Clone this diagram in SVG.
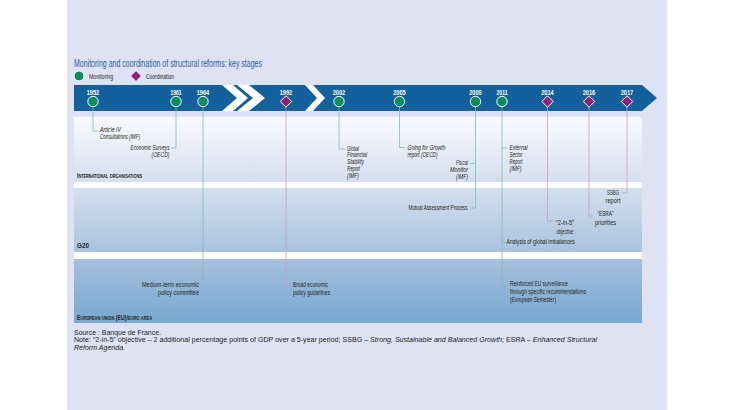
<svg xmlns="http://www.w3.org/2000/svg" width="730" height="410" viewBox="0 0 730 410">
<defs>
<style>
text { font-family: "Liberation Sans", Arial, sans-serif; }
.lbl { font-size: 7px; fill: #231f20; }
.it { font-style: italic; }
.yr { font-size: 7.5px; font-weight: bold; fill: #ffffff; text-anchor: middle; }
.band { font-size: 6.5px; font-weight: bold; fill: #231f20; font-variant: small-caps; }
.cg { stroke: #7dbdb1; stroke-width: 0.8; fill: none; }
.cp { stroke: #c99dca; stroke-width: 0.8; fill: none; }
.mon { fill: #0d8a62; stroke: #ffffff; stroke-width: 1; }
.coo { fill: #8e1f7f; stroke: #ffffff; stroke-width: 1; }
.chev { fill: #ffffff; }
.note { font-size: 6.5px; fill: #231f20; }
</style>
<linearGradient id="gIO" x1="0" y1="0" x2="0" y2="1">
<stop offset="0" stop-color="#f9fafe"/>
<stop offset="1" stop-color="#d5dfed"/>
</linearGradient>
<linearGradient id="gG20" x1="0" y1="0" x2="0" y2="1">
<stop offset="0" stop-color="#d3dfed"/>
<stop offset="1" stop-color="#a9c3df"/>
</linearGradient>
<linearGradient id="gEU" x1="0" y1="0" x2="0" y2="1">
<stop offset="0" stop-color="#a5c0dd"/>
<stop offset="1" stop-color="#77a7cf"/>
</linearGradient>
</defs>

<rect x="0" y="0" width="730" height="410" fill="#ffffff"/>
<rect x="67" y="0" width="600" height="410" fill="#dee2f2"/>

<text x="74" y="66.5" font-size="10.5" fill="#2e5aa6" textLength="188" lengthAdjust="spacingAndGlyphs">Monitoring and coordination of structural reforms: key stages</text>

<g id="legend">
<circle class="mon" cx="79" cy="76" r="5"/>
<text class="lbl" x="89" y="78.5" textLength="24" lengthAdjust="spacingAndGlyphs">Monitoring</text>
<polygon class="coo" points="136,70.5 141.5,76 136,81.5 130.5,76"/>
<text class="lbl" x="146" y="78.5" textLength="28" lengthAdjust="spacingAndGlyphs">Coordination</text>
</g>

<g id="bands">
<rect x="74" y="117" width="568" height="65" fill="url(#gIO)"/>
<rect x="74" y="182" width="568" height="6" fill="#ffffff"/>
<rect x="74" y="188" width="568" height="64" fill="url(#gG20)"/>
<rect x="74" y="252" width="568" height="7" fill="#ffffff"/>
<rect x="74" y="259" width="568" height="64" fill="url(#gEU)"/>
<text class="band" x="77" y="177.5" textLength="65" lengthAdjust="spacingAndGlyphs">International organisations</text>
<text class="band" x="77" y="247.5" textLength="12" lengthAdjust="spacingAndGlyphs">G20</text>
<text class="band" x="77" y="319.5" textLength="75" lengthAdjust="spacingAndGlyphs">European union (EU)/euro area</text>
</g>

<g id="timeline">
<polygon points="74,85 642,85 657,98 642,111 74,111" fill="#14609c"/>
<polygon class="chev" points="222,85 233,85 248,98 233,111 222,111 237,98"/>
<polygon class="chev" points="237,85 249,85 265,98 249,111 237,111 253,98"/>
<polygon class="chev" points="305,85 313,85 325,98 313,111 305,111 317,98"/>
</g>

<g id="connectors">
<path class="cg" d="M93,106 V131 H98"/>
<path class="cg" d="M176,106 V148 H171"/>
<path class="cg" d="M203,106 V285 H200"/>
<path class="cp" d="M286,106 V285 H291"/>
<path class="cg" d="M339,106 V149 H345"/>
<path class="cg" d="M399.5,106 V147.5 H405"/>
<path class="cg" d="M475.5,106 V208 H470 M475.5,163.5 H470"/>
<path class="cg" d="M502,106 V286 H507 M502,148 H507 M502,242 H505"/>
<path class="cp" d="M547.5,106 V221 H553"/>
<path class="cp" d="M589,106 V216 H593"/>
<path class="cp" d="M627,106 V193 H622"/>
</g>

<g id="m1952"><circle class="mon" cx="93" cy="101.5" r="5.2"/><text class="yr" x="93" y="95.3" textLength="12.5" lengthAdjust="spacingAndGlyphs">1952</text></g>
<g id="m1961"><circle class="mon" cx="176" cy="101.5" r="5.2"/><text class="yr" x="176" y="95.3" textLength="11" lengthAdjust="spacingAndGlyphs">1961</text></g>
<g id="m1964"><circle class="mon" cx="203" cy="101.5" r="5.2"/><text class="yr" x="203" y="95.3" textLength="12.5" lengthAdjust="spacingAndGlyphs">1964</text></g>
<g id="m1992"><polygon class="coo" points="286,95.8 291.7,101.5 286,107.2 280.3,101.5"/><text class="yr" x="286" y="95.3" textLength="12.5" lengthAdjust="spacingAndGlyphs">1992</text></g>
<g id="m2002"><circle class="mon" cx="339" cy="101.5" r="5.2"/><text class="yr" x="339" y="95.3" textLength="12.5" lengthAdjust="spacingAndGlyphs">2002</text></g>
<g id="m2005"><circle class="mon" cx="399.5" cy="101.5" r="5.2"/><text class="yr" x="399.5" y="95.3" textLength="12.5" lengthAdjust="spacingAndGlyphs">2005</text></g>
<g id="m2009"><circle class="mon" cx="475.5" cy="101.5" r="5.2"/><text class="yr" x="475.5" y="95.3" textLength="12.5" lengthAdjust="spacingAndGlyphs">2009</text></g>
<g id="m2011"><circle class="mon" cx="502" cy="101.5" r="5.2"/><text class="yr" x="502" y="95.3" textLength="11" lengthAdjust="spacingAndGlyphs">2011</text></g>
<g id="m2014"><polygon class="coo" points="547.5,95.8 553.2,101.5 547.5,107.2 541.8,101.5"/><text class="yr" x="547.5" y="95.3" textLength="12.5" lengthAdjust="spacingAndGlyphs">2014</text></g>
<g id="m2016"><polygon class="coo" points="589,95.8 594.7,101.5 589,107.2 583.3,101.5"/><text class="yr" x="589" y="95.3" textLength="12.5" lengthAdjust="spacingAndGlyphs">2016</text></g>
<g id="m2017"><polygon class="coo" points="627,95.8 632.7,101.5 627,107.2 621.3,101.5"/><text class="yr" x="627" y="95.3" textLength="12.5" lengthAdjust="spacingAndGlyphs">2017</text></g>

<g id="l-article-iv" class="lbl it">
<text x="100" y="131.5" textLength="21" lengthAdjust="spacingAndGlyphs">Article IV</text>
<text x="100" y="138.5" textLength="40" lengthAdjust="spacingAndGlyphs">Consultations (IMF)</text>
</g>
<g id="l-economic-surveys" class="lbl it" text-anchor="end">
<text x="169.5" y="149.5" textLength="39" lengthAdjust="spacingAndGlyphs">Economic Surveys</text>
<text x="169.5" y="156.5" textLength="18" lengthAdjust="spacingAndGlyphs">(OECD)</text>
</g>
<g id="l-gfsr" class="lbl it">
<text x="347" y="150.5" textLength="12" lengthAdjust="spacingAndGlyphs">Global</text>
<text x="347" y="157.3" textLength="20" lengthAdjust="spacingAndGlyphs">Financial</text>
<text x="347" y="164.1" textLength="17" lengthAdjust="spacingAndGlyphs">Stability</text>
<text x="347" y="170.9" textLength="13" lengthAdjust="spacingAndGlyphs">Report</text>
<text x="347" y="177.7" textLength="12" lengthAdjust="spacingAndGlyphs">(IMF)</text>
</g>
<g id="l-going-for-growth" class="lbl it">
<text x="407.5" y="149.5" textLength="38" lengthAdjust="spacingAndGlyphs">Going for Growth</text>
<text x="407.5" y="156.5" textLength="30" lengthAdjust="spacingAndGlyphs">report (OECD)</text>
</g>
<g id="l-fiscal-monitor" class="lbl it" text-anchor="end">
<text x="468" y="164.5" textLength="12" lengthAdjust="spacingAndGlyphs">Fiscal</text>
<text x="468" y="171.5" textLength="18" lengthAdjust="spacingAndGlyphs">Monitor</text>
<text x="468" y="178.5" textLength="12" lengthAdjust="spacingAndGlyphs">(IMF)</text>
</g>
<g id="l-external-sector" class="lbl it">
<text x="509.5" y="149.5" textLength="18" lengthAdjust="spacingAndGlyphs">External</text>
<text x="509.5" y="156.8" textLength="13" lengthAdjust="spacingAndGlyphs">Sector</text>
<text x="509.5" y="164.1" textLength="13" lengthAdjust="spacingAndGlyphs">Report</text>
<text x="509.5" y="171.4" textLength="12" lengthAdjust="spacingAndGlyphs">(IMF)</text>
</g>
<g id="l-map" class="lbl">
<text x="467.5" y="210.3" text-anchor="end" textLength="59" lengthAdjust="spacingAndGlyphs">Mutual Assessment Process</text>
</g>
<g id="l-ssbg" class="lbl" text-anchor="middle">
<text x="613" y="195.2" textLength="12" lengthAdjust="spacingAndGlyphs">SSBG</text>
<text x="613" y="203" textLength="15" lengthAdjust="spacingAndGlyphs">report</text>
</g>
<g id="l-esra" class="lbl" text-anchor="middle">
<text x="605.5" y="215.7" textLength="16" lengthAdjust="spacingAndGlyphs">“ESRA”</text>
<text x="605.5" y="225" textLength="21" lengthAdjust="spacingAndGlyphs">priorities</text>
</g>
<g id="l-2in5" class="lbl" text-anchor="middle">
<text x="565" y="225.2" textLength="18" lengthAdjust="spacingAndGlyphs">“2-in-5”</text>
<text x="565" y="234.2" textLength="17" lengthAdjust="spacingAndGlyphs">objective</text>
</g>
<g id="l-global-imbalances" class="lbl">
<text x="506.5" y="244.3" textLength="68" lengthAdjust="spacingAndGlyphs">Analysis of global imbalances</text>
</g>
<g id="l-medium-term" class="lbl" text-anchor="end">
<text x="199" y="286.7" textLength="57" lengthAdjust="spacingAndGlyphs">Medium-term economic</text>
<text x="199" y="295" textLength="41" lengthAdjust="spacingAndGlyphs">policy committee</text>
</g>
<g id="l-broad-economic" class="lbl">
<text x="293" y="286.7" textLength="35" lengthAdjust="spacingAndGlyphs">Broad economic</text>
<text x="293" y="295" textLength="37" lengthAdjust="spacingAndGlyphs">policy guidelines</text>
</g>
<g id="l-european-semester" class="lbl">
<text x="510" y="285.7" textLength="58" lengthAdjust="spacingAndGlyphs">Reinforced EU surveillance</text>
<text x="510" y="293.7" textLength="76" lengthAdjust="spacingAndGlyphs">through specific recommendations</text>
<text x="510" y="301.5" textLength="46" lengthAdjust="spacingAndGlyphs">(European Semester)</text>
</g>

<g id="footer" class="note">
<text x="74" y="335.2" textLength="87" lengthAdjust="spacingAndGlyphs">Source : Banque de France.</text>
<text x="74" y="342.4" textLength="523" lengthAdjust="spacingAndGlyphs">Note: “2-in-5” objective – 2 additional percentage points of GDP over a 5-year period; SSBG – <tspan font-style="italic">Strong, Sustainable and Balanced Growth</tspan>; ESRA – <tspan font-style="italic">Enhanced Structural</tspan></text>
<text x="74" y="349.6" font-style="italic" textLength="51" lengthAdjust="spacingAndGlyphs">Reform Agenda.</text>
</g>
</svg>
